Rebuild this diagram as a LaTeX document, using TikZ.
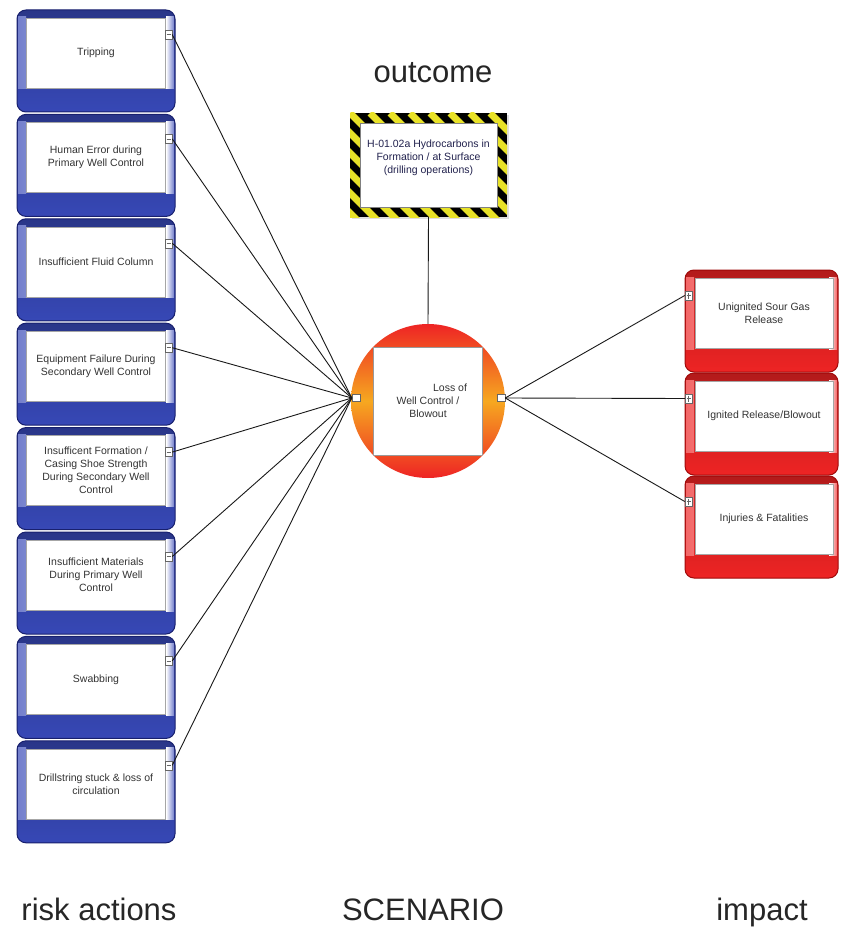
\documentclass[tikz,border=0pt]{standalone}
\usepackage{fontspec}
\setmainfont{Liberation Sans}
\usetikzlibrary{positioning, calc, shadows}
\definecolor{riskblue}{RGB}{55,72,182}
\definecolor{riskdark}{RGB}{24,32,110}
\definecolor{impactred}{RGB}{238,36,36}
\definecolor{impactdark}{RGB}{160,10,10}
\definecolor{scenorange}{RGB}{246,168,32}
\definecolor{hazardyellow}{RGB}{232,226,40}
\definecolor{ink}{RGB}{34,34,78}
\newcommand{\boxfont}{\fontsize{10.5}{13}\selectfont}

\begin{document}
\begin{tikzpicture}[x=1pt, y=-1pt,
        boxframe/.style n args={2}{rectangle, rounded corners=9pt, draw=#2, line width=1pt, minimum height=102pt, top color=#1!75!black, bottom color=#1,
            path picture={
                \shade[sharp corners, left color=#1!70!white, right color=white] ([shift={(1pt,-7pt)}]path picture bounding box.north west) rectangle ([shift={(9pt,-79pt)}]path picture bounding box.north west);
                \shade[sharp corners, left color=white, right color=#1!70!white] ([shift={(-9pt,-7pt)}]path picture bounding box.north east) rectangle ([shift={(-1pt,-79pt)}]path picture bounding box.north east);}},
        riskbox/.style={boxframe={riskblue}{riskdark}, minimum width=158pt},
        impactbox/.style={boxframe={impactred}{impactdark}, minimum width=153pt},
        card/.style={rectangle, fill=white, draw=black!35, line width=0.4pt, minimum width=139pt, minimum height=70pt, align=center, font=\boxfont, text=black!80},
        tab/.style={rectangle, fill=white, draw=black!60, line width=0.5pt, minimum width=7pt, minimum height=9pt, inner sep=0pt},
        tabminus/.style={tab, path picture={\draw[line width=0.5pt] ([xshift=1.5pt]path picture bounding box.west) -- ([xshift=-1.5pt]path picture bounding box.east);}},
        tabplus/.style={tab, path picture={\draw[line width=0.5pt] ([xshift=1.5pt]path picture bounding box.west) -- ([xshift=-1.5pt]path picture bounding box.east);
            \draw[line width=0.5pt] ([yshift=-1.5pt]path picture bounding box.north) -- ([yshift=1.5pt]path picture bounding box.south);}},
        scenario/.style={circle, minimum size=154pt, inner sep=0pt, top color=impactred, bottom color=impactred, middle color=scenorange, align=center, font=\boxfont, text=black!80,
            path picture={\filldraw[fill=white, draw=black!40] ([shift={(-54.5pt,54pt)}]path picture bounding box.center) rectangle ([shift={(54.5pt,-54pt)}]path picture bounding box.center);}},
        hazard/.style={rectangle, minimum width=157pt, minimum height=104pt, fill=black, drop shadow={opacity=0.25, shadow xshift=2pt, shadow yshift=-2pt},
            path picture={
                \foreach \k in {0,...,14} \draw[hazardyellow, line width=7pt] ([xshift=\k*20pt-120pt]path picture bounding box.north west) -- ++(120pt,-120pt);
                \filldraw[fill=white, draw=black!50] ([shift={(10pt,-10pt)}]path picture bounding box.north west) rectangle ([shift={(-10pt,10pt)}]path picture bounding box.south east);}},
        title/.style={font=\fontsize{31}{36}\selectfont, text=black!85, anchor=base, inner sep=0pt},
        link/.style={line width=0.9pt, draw=black!90}]
    \useasboundingbox[fill=white] (0,0) rectangle (841,931);

    \node[riskbox] (tri) at (96,61) {};
    \node[card] (tri-t) at ([yshift=8pt]tri) {Tripping};
    \node[tabminus] (tri-p) at ([shift={(-7pt,-25pt)}]tri.north east) {};
    \node[riskbox] (hum) at (96,165.4) {};
    \node[card] (hum-t) at ([yshift=8pt]hum) {Human Error during\\Primary Well Control};
    \node[tabminus] (hum-p) at ([shift={(-7pt,-25pt)}]hum.north east) {};
    \node[riskbox] (flu) at (96,269.8) {};
    \node[card] (flu-t) at ([yshift=8pt]flu) {Insufficient Fluid Column};
    \node[tabminus] (flu-p) at ([shift={(-7pt,-25pt)}]flu.north east) {};
    \node[riskbox] (equ) at (96,374.2) {};
    \node[card] (equ-t) at ([yshift=8pt]equ) {Equipment Failure During\\Secondary Well Control};
    \node[tabminus] (equ-p) at ([shift={(-7pt,-25pt)}]equ.north east) {};
    \node[riskbox] (shoe) at (96,478.6) {};
    \node[card] (shoe-t) at ([yshift=8pt]shoe) {Insufficent Formation /\\Casing Shoe Strength\\During Secondary Well\\Control};
    \node[tabminus] (shoe-p) at ([shift={(-7pt,-25pt)}]shoe.north east) {};
    \node[riskbox] (mat) at (96,583) {};
    \node[card] (mat-t) at ([yshift=8pt]mat) {Insufficient Materials\\During Primary Well\\Control};
    \node[tabminus] (mat-p) at ([shift={(-7pt,-25pt)}]mat.north east) {};
    \node[riskbox] (swa) at (96,687.4) {};
    \node[card] (swa-t) at ([yshift=8pt]swa) {Swabbing};
    \node[tabminus] (swa-p) at ([shift={(-7pt,-25pt)}]swa.north east) {};
    \node[riskbox] (dri) at (96,791.8) {};
    \node[card] (dri-t) at ([yshift=8pt]dri) {Drillstring stuck \& loss of\\circulation};
    \node[tabminus] (dri-p) at ([shift={(-7pt,-25pt)}]dri.north east) {};

    \node[impactbox] (sour) at (761.5,321) {};
    \node[card, minimum width=138pt] (sour-t) at ([shift={(2.5pt,8pt)}]sour) {Unignited Sour Gas\\Release};
    \node[tabplus] (sour-p) at ([shift={(4pt,-26pt)}]sour.north west) {};
    \node[impactbox] (ign) at (761.5,424) {};
    \node[card, minimum width=138pt] (ign-t) at ([shift={(2.5pt,8pt)}]ign) {Ignited Release/Blowout};
    \node[tabplus] (ign-p) at ([shift={(4pt,-26pt)}]ign.north west) {};
    \node[impactbox] (inj) at (761.5,527) {};
    \node[card, minimum width=138pt] (inj-t) at ([shift={(2.5pt,8pt)}]inj) {Injuries \& Fatalities};
    \node[tabplus] (inj-p) at ([shift={(4pt,-26pt)}]inj.north west) {};

    \node[hazard] (out) at (428.5,165) {};
    \node[align=center, font=\boxfont, text=ink] (out-t) at ([yshift=7pt]out) {H-01.02a Hydrocarbons in\\Formation / at Surface\\(drilling operations)};
    \node[scenario] (sc) at (428,401) {\hspace*{44pt}Loss of\\Well Control /\\Blowout};
    \node[tab, minimum width=8pt, minimum height=7pt] (sc-l) at (356,398) {};
    \node[tab, minimum width=8pt, minimum height=7pt] (sc-r) at (501,398) {};

    \draw[link] (out.south) -- (sc.north);
    \draw[link] (tri-p.east) -- (sc-l.west);
    \draw[link] (hum-p.east) -- (sc-l.west);
    \draw[link] (flu-p.east) -- (sc-l.west);
    \draw[link] (equ-p.east) -- (sc-l.west);
    \draw[link] (shoe-p.east) -- (sc-l.west);
    \draw[link] (mat-p.east) -- (sc-l.west);
    \draw[link] (swa-p.east) -- (sc-l.west);
    \draw[link] (dri-p.east) -- (sc-l.west);
    \draw[link] (sc-r.east) -- (sour-p.west);
    \draw[link] (sc-r.east) -- (ign-p.west);
    \draw[link] (sc-r.east) -- (inj-p.west);

    \node[title] (out-lbl) at (433,83) {outcome};
    \node[title] (risk-lbl) at (99,920) {risk actions};
    \node[title] (sc-lbl) at (423,920) {SCENARIO};
    \node[title] (imp-lbl) at (762,920) {impact};
\end{tikzpicture}
\end{document}
